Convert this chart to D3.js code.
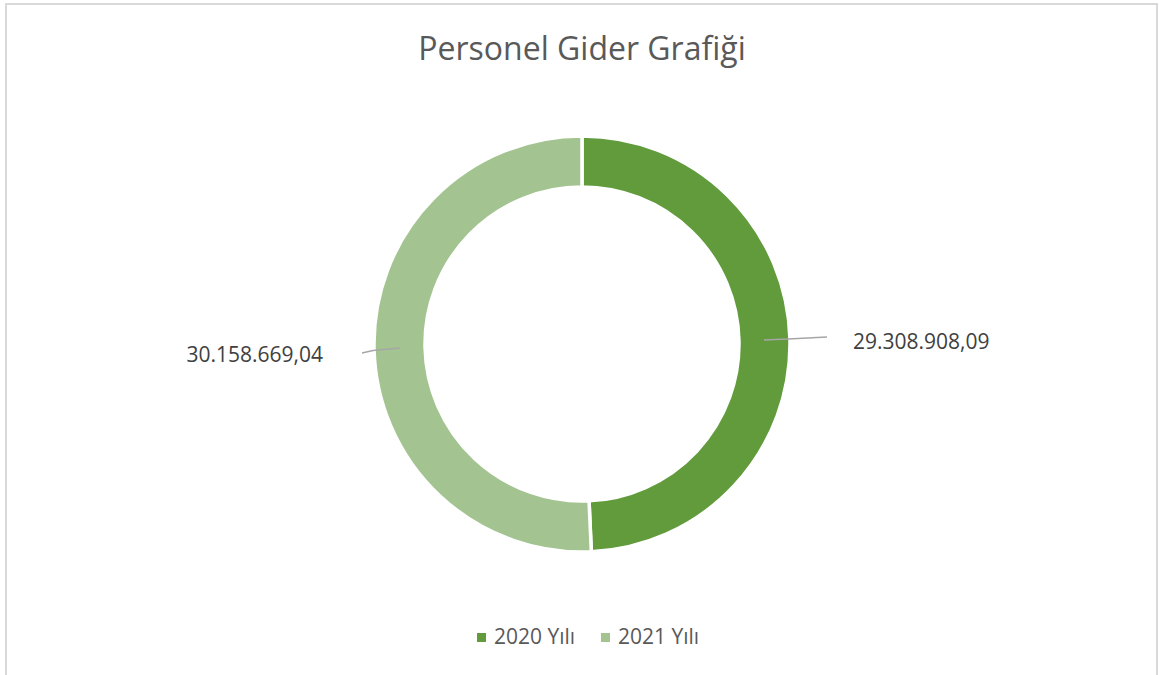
<!DOCTYPE html>
<html>
<head>
<meta charset="utf-8">
<script src="https://cdn.jsdelivr.net/npm/d3@7"></script>
<style>
  body { margin: 0; background: #fff; }
  svg { display: block; font-family: "Open Sans", sans-serif; }
</style>
</head>
<body>
<script>
const categories = ["2020 Yılı", "2021 Yılı"];
const values = [29308908.09, 30158669.04];
const colors = ["#619b3c", "#a3c491"];
const title = "Personel Gider Grafiği";

const width = 1159;
const height = 675;
const cx = 582;
const cy = 344;
const outerR = 208;
const innerR = 157;

const trLocale = d3.formatLocale({ decimal: ",", thousands: ".", grouping: [3], currency: ["", " ₺"] });
const fmt = trLocale.format(",.2f");

const svg = d3.select("body")
    .append("svg")
    .attr("width", width)
    .attr("height", height)

// chart area border
svg.append("rect")
    .attr("x", 6).attr("y", 4)
    .attr("width", 1151).attr("height", 700)
    .attr("fill", "#fff")
    .attr("stroke", "#d9d9d9")
    .attr("stroke-width", 2)

svg.append("text")
    .attr("x", cx)
    .attr("y", 60)
    .attr("text-anchor", "middle")
    .style("font-size", "32px")
    .style("fill", "#595959")
    .text(title)

const pie = d3.pie().sort(null).value((d) => d)
const arcs = pie(values)

const arc = d3.arc().innerRadius(innerR).outerRadius(outerR)
const midArc = d3.arc().innerRadius(182).outerRadius(182)

const g = svg.append("g").attr("transform", `translate(${cx},${cy})`)

g.selectAll("path")
    .data(arcs)
    .enter()
    .append("path")
    .attr("d", arc)
    .attr("fill", (d, i) => colors[i])
    .attr("stroke", "#fff")
    .attr("stroke-width", 3.5)

// data labels with leader lines
const labelOffsets = [
    { dx: 245, dy: -3, kx: 206, tx: 271, ty: 9, anchor: "start" },
    { dx: -220, dy: 5, kx: -209, tx: -259, ty: 14, anchor: "end" }
];

arcs.forEach((d, i) => {
    const [px, py] = midArc.centroid(d)
    const o = labelOffsets[i]
    const ex = o.dx
    const ey = py + o.dy
    g.append("polyline")
        .attr("points", `${px},${py} ${o.kx},${(py + ey) / 2 + (i === 0 ? 0.5 : 0)} ${ex},${ey}`)
        .attr("fill", "none")
        .attr("stroke", "#a6a6a6")
        .attr("stroke-width", 1.5)
    g.append("text")
        .attr("x", o.tx)
        .attr("y", py + o.ty)
        .attr("text-anchor", o.anchor)
        .style("font-size", "21px")
        .style("fill", "#404040")
        .text(fmt(values[i]))
})

// legend
const legendX = [477, 601];
const legend = svg.append("g").attr("id", "legend")
categories.forEach((c, i) => {
    legend.append("rect")
        .attr("x", legendX[i]).attr("y", 633)
        .attr("width", 9).attr("height", 9)
        .attr("fill", colors[i])
    legend.append("text")
        .attr("x", legendX[i] + 17)
        .attr("y", 644)
        .style("font-size", "21px")
        .style("fill", "#595959")
        .text(c)
})
</script>
</body>
</html>
